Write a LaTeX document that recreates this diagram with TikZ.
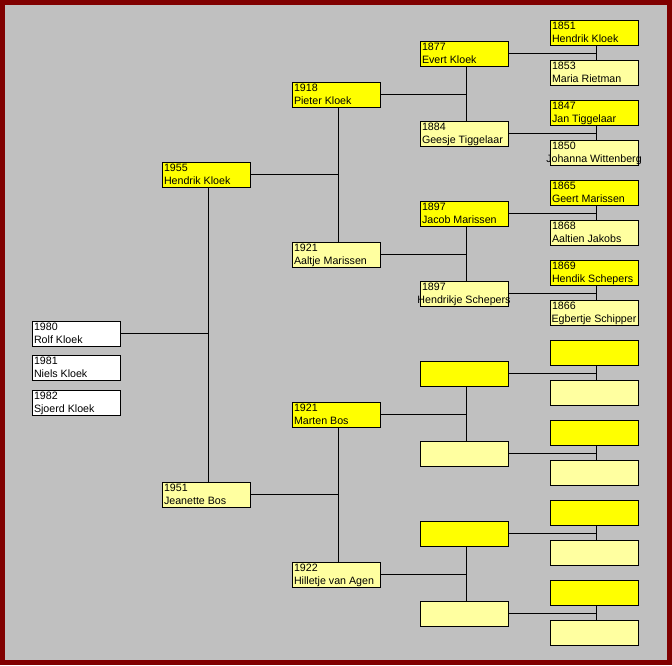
\documentclass[tikz,border=0pt]{standalone}
\usepackage{fontspec}
\setmainfont{Liberation Sans}
\usepackage{tikz}
\usetikzlibrary{positioning}

\definecolor{frame}{HTML}{800000}
\definecolor{canvas}{HTML}{C0C0C0}
\definecolor{man}{HTML}{FFFF00}
\definecolor{woman}{HTML}{FFFFA0}

% year on the first line, name on the second
\newcommand\pers[2]{\vbox to 18.75pt{\baselineskip=9.2pt\lineskiplimit=-20pt\kern1.9pt
  \hbox to 66pt{\hskip 1.5pt minus 1fil #1\hfil\hskip 1.5pt minus 1fil}
  \hbox to 66pt{\hskip 1.5pt minus 1fil #2\hfil\hskip 1.5pt minus 1fil}\vss}}

\begin{document}
\begin{tikzpicture}[x=0.75pt,y=-0.75pt]
	\tikzset{person/.style={draw,line width=0.75pt,inner sep=0pt,minimum width=66pt,minimum height=18.75pt,anchor=north west,font=\fontsize{8}{9.2}\selectfont},
		male/.style={person,fill=man},
		female/.style={person,fill=woman},
		child/.style={person,fill=white},
		line/.style={draw,line width=0.75pt}}
	\fill[frame] (-0.5,-0.5) rectangle (671.5,664.5);
	\fill[canvas] (4.5,4.5) rectangle (666.5,659.5);
	% children
	\node[child] (k1) at (31,320) {\pers{1980}{Rolf Kloek}};
	\node[child] (k2) at (31,354) {\pers{1981}{Niels Kloek}};
	\node[child] (k3) at (31,389) {\pers{1982}{Sjoerd Kloek}};
	% parents
	\node[male] (a2) at (161,161) {\pers{1955}{Hendrik Kloek}};
	\node[female] (a3) at (161,481) {\pers{1951}{Jeanette Bos}};
	% grandparents
	\node[male] (a4) at (291,81) {\pers{1918}{Pieter Kloek}};
	\node[female] (a5) at (291,241) {\pers{1921}{Aaltje Marissen}};
	\node[male] (a6) at (291,401) {\pers{1921}{Marten Bos}};
	\node[female] (a7) at (291,561) {\pers{1922}{Hilletje van Agen}};
	% great-grandparents
	\node[male] (a8) at (419,40) {\pers{1877}{Evert Kloek}};
	\node[female] (a9) at (419,120) {\pers{1884}{Geesje Tiggelaar}};
	\node[male] (a10) at (419,200) {\pers{1897}{Jacob Marissen}};
	\node[female] (a11) at (419,280) {\pers{1897}{Hendrikje Schepers}};
	\node[male] (a12) at (419,360) {};
	\node[female] (a13) at (419,440) {};
	\node[male] (a14) at (419,520) {};
	\node[female] (a15) at (419,600) {};
	% great-great-grandparents
	\node[male] (a16) at (549,19) {\pers{1851}{Hendrik Kloek}};
	\node[female] (a17) at (549,59) {\pers{1853}{Maria Rietman}};
	\node[male] (a18) at (549,99) {\pers{1847}{Jan Tiggelaar}};
	\node[female] (a19) at (549,139) {\pers{1850}{Johanna Wittenberg}};
	\node[male] (a20) at (549,179) {\pers{1865}{Geert Marissen}};
	\node[female] (a21) at (549,219) {\pers{1868}{Aaltien Jakobs}};
	\node[male] (a22) at (549,259) {\pers{1869}{Hendik Schepers}};
	\node[female] (a23) at (549,299) {\pers{1866}{Egbertje Schipper}};
	\node[male] (a24) at (549,339) {};
	\node[female] (a25) at (549,379) {};
	\node[male] (a26) at (549,419) {};
	\node[female] (a27) at (549,459) {};
	\node[male] (a28) at (549,499) {};
	\node[female] (a29) at (549,539) {};
	\node[male] (a30) at (549,579) {};
	\node[female] (a31) at (549,619) {};
	% couple lines
	\coordinate (v2) at ([xshift=1.5pt]a2.south);
	\coordinate (v4) at ([xshift=1.5pt]a4.south);
	\coordinate (v6) at ([xshift=1.5pt]a6.south);
	\coordinate (v8) at ([xshift=1.5pt]a8.south);
	\coordinate (v10) at ([xshift=1.5pt]a10.south);
	\coordinate (v12) at ([xshift=1.5pt]a12.south);
	\coordinate (v14) at ([xshift=1.5pt]a14.south);
	\coordinate (v16) at ([xshift=1.5pt]a16.south);
	\coordinate (v18) at ([xshift=1.5pt]a18.south);
	\coordinate (v20) at ([xshift=1.5pt]a20.south);
	\coordinate (v22) at ([xshift=1.5pt]a22.south);
	\coordinate (v24) at ([xshift=1.5pt]a24.south);
	\coordinate (v26) at ([xshift=1.5pt]a26.south);
	\coordinate (v28) at ([xshift=1.5pt]a28.south);
	\coordinate (v30) at ([xshift=1.5pt]a30.south);
	\path[line]
		(v2) edge (v2 |- a3.north)
		(v4) edge (v4 |- a5.north)
		(v6) edge (v6 |- a7.north)
		(v8) edge (v8 |- a9.north)
		(v10) edge (v10 |- a11.north)
		(v12) edge (v12 |- a13.north)
		(v14) edge (v14 |- a15.north)
		(v16) edge (v16 |- a17.north)
		(v18) edge (v18 |- a19.north)
		(v20) edge (v20 |- a21.north)
		(v22) edge (v22 |- a23.north)
		(v24) edge (v24 |- a25.north)
		(v26) edge (v26 |- a27.north)
		(v28) edge (v28 |- a29.north)
		(v30) edge (v30 |- a31.north);
	% child lines
	\path[line]
		(k1.east) edge (k1.east -| v2)
		(a2.east) edge (a2.east -| v4)
		(a3.east) edge (a3.east -| v6)
		(a4.east) edge (a4.east -| v8)
		(a5.east) edge (a5.east -| v10)
		(a6.east) edge (a6.east -| v12)
		(a7.east) edge (a7.east -| v14)
		(a8.east) edge (a8.east -| v16)
		(a9.east) edge (a9.east -| v18)
		(a10.east) edge (a10.east -| v20)
		(a11.east) edge (a11.east -| v22)
		(a12.east) edge (a12.east -| v24)
		(a13.east) edge (a13.east -| v26)
		(a14.east) edge (a14.east -| v28)
		(a15.east) edge (a15.east -| v30);
\end{tikzpicture}
\end{document}
